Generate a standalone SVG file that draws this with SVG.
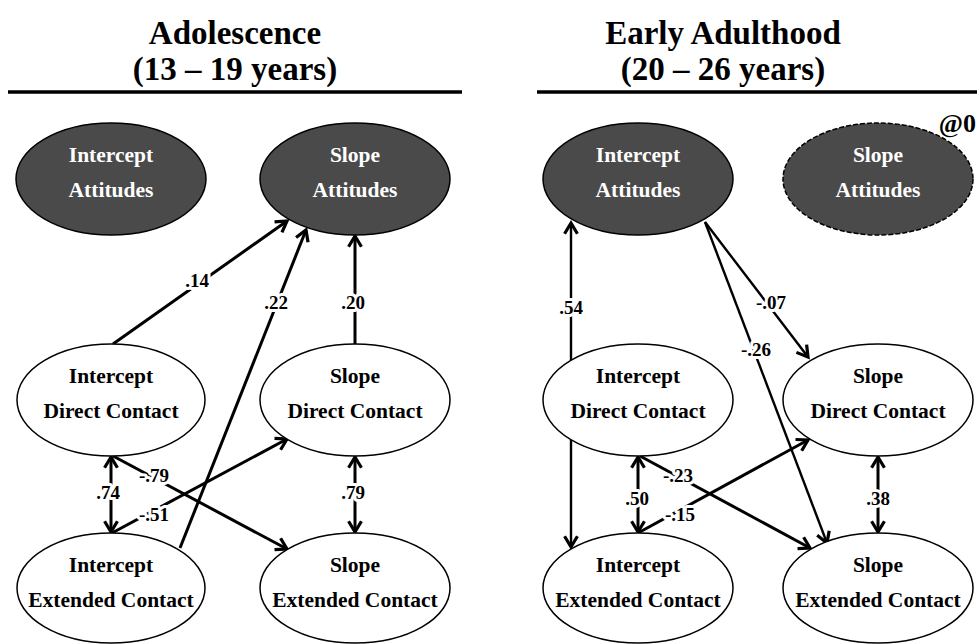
<svg xmlns="http://www.w3.org/2000/svg" width="977" height="644" viewBox="0 0 977 644">
<defs>
<marker id="ah" viewBox="0 0 12 14" refX="11" refY="7" markerWidth="13" markerHeight="15" markerUnits="userSpaceOnUse" orient="auto-start-reverse" overflow="visible">
<path d="M1,1 L11,7 L1,13" fill="none" stroke="#000" stroke-width="3"/>
</marker>
</defs>
<style>
text{font-family:'Liberation Serif','DejaVu Serif',serif;font-weight:bold}
.title{font-size:33px;text-anchor:middle;fill:#000}
.rule{stroke:#000;stroke-width:3.5}
.dark{fill:#4a4a4a;stroke:#000;stroke-width:1.5}
.light{fill:#fff;stroke:#000;stroke-width:1.5}
.dash{stroke-dasharray:5 2}
.nt{font-size:21.5px;text-anchor:middle}
.w{fill:#fff}
.b{fill:#000}
.ln{stroke:#000;stroke-width:3;fill:none}
.thin{stroke-width:2.4}
.one{marker-end:url(#ah)}
.two{marker-start:url(#ah);marker-end:url(#ah)}
.lab{font-size:19px;text-anchor:middle;fill:#000;stroke:#fff;stroke-width:6;paint-order:stroke;stroke-linejoin:round}
</style>
<g id="titles">
<text class="title" x="235" y="44">Adolescence</text>
<text class="title" x="235" y="80">(13 – 19 years)</text>
<line class="rule" x1="8" y1="92" x2="462" y2="92"/>
<text class="title" x="723" y="44">Early Adulthood</text>
<text class="title" x="723" y="80">(20 – 26 years)</text>
<line class="rule" x1="537" y1="92" x2="977" y2="92"/>
</g>
<g id="connectors">
<line class="ln one" x1="113" y1="344" x2="287" y2="221"/>
<line class="ln one" x1="180" y1="548" x2="306" y2="230"/>
<line class="ln one" x1="355" y1="344" x2="355" y2="236"/>
<line class="ln two" x1="111" y1="457" x2="111" y2="532"/>
<line class="ln one" x1="113" y1="456" x2="287" y2="549"/>
<line class="ln one" x1="112" y1="533" x2="287" y2="439"/>
<line class="ln two" x1="355" y1="457" x2="355" y2="532"/>
<line class="ln thin two" x1="571" y1="223" x2="571" y2="547"/>
<line class="ln thin one" x1="705" y1="222" x2="808" y2="357"/>
<line class="ln thin one" x1="705" y1="222" x2="827" y2="543"/>
<line class="ln two" x1="638" y1="457" x2="638" y2="532"/>
<line class="ln one" x1="640" y1="456" x2="810" y2="548"/>
<line class="ln one" x1="638" y1="533" x2="808" y2="440"/>
<line class="ln two" x1="878" y1="457" x2="878" y2="532"/>
</g>
<g id="labels">
<text class="lab" x="197" y="287">.14</text>
<text class="lab" x="276" y="309">.22</text>
<text class="lab" x="353" y="309">.20</text>
<text class="lab" x="108" y="499">.74</text>
<text class="lab" x="154" y="482">-.79</text>
<text class="lab" x="154" y="521">-.51</text>
<text class="lab" x="353" y="499">.79</text>
<text class="lab" x="571" y="314">.54</text>
<text class="lab" x="771" y="309">-.07</text>
<text class="lab" x="756" y="356">-.26</text>
<text class="lab" x="678" y="482">-.23</text>
<text class="lab" x="637" y="505">.50</text>
<text class="lab" x="680" y="521">-.15</text>
<text class="lab" x="878" y="505">.38</text>
</g>
<g id="L-intercept-attitudes">
<ellipse class="dark" cx="111" cy="179" rx="95" ry="56"/>
<text class="nt w" x="111" y="162">Intercept</text>
<text class="nt w" x="111" y="197">Attitudes</text>
</g>
<g id="L-slope-attitudes">
<ellipse class="dark" cx="355" cy="179" rx="95" ry="56"/>
<text class="nt w" x="355" y="162">Slope</text>
<text class="nt w" x="355" y="197">Attitudes</text>
</g>
<g id="L-intercept-direct">
<ellipse class="light" cx="111" cy="400" rx="94" ry="56"/>
<text class="nt b" x="111" y="383">Intercept</text>
<text class="nt b" x="111" y="418">Direct Contact</text>
</g>
<g id="L-slope-direct">
<ellipse class="light" cx="355" cy="400" rx="95" ry="56"/>
<text class="nt b" x="355" y="383">Slope</text>
<text class="nt b" x="355" y="418">Direct Contact</text>
</g>
<g id="L-intercept-extended">
<ellipse class="light" cx="111" cy="588" rx="94" ry="55"/>
<text class="nt b" x="111" y="572">Intercept</text>
<text class="nt b" x="111" y="607">Extended Contact</text>
</g>
<g id="L-slope-extended">
<ellipse class="light" cx="355" cy="588" rx="95" ry="55"/>
<text class="nt b" x="355" y="572">Slope</text>
<text class="nt b" x="355" y="607">Extended Contact</text>
</g>
<g id="R-intercept-attitudes">
<ellipse class="dark" cx="638" cy="179" rx="95" ry="56"/>
<text class="nt w" x="638" y="162">Intercept</text>
<text class="nt w" x="638" y="197">Attitudes</text>
</g>
<g id="R-slope-attitudes">
<ellipse class="dark dash" cx="878" cy="179" rx="95" ry="56"/>
<text class="nt w" x="878" y="162">Slope</text>
<text class="nt w" x="878" y="197">Attitudes</text>
<text class="nt b" x="976" y="132" style="text-anchor:end;font-size:26px">@0</text>
</g>
<g id="R-intercept-direct">
<ellipse class="light" cx="638" cy="400" rx="95" ry="56"/>
<text class="nt b" x="638" y="383">Intercept</text>
<text class="nt b" x="638" y="418">Direct Contact</text>
</g>
<g id="R-slope-direct">
<ellipse class="light" cx="878" cy="400" rx="95" ry="56"/>
<text class="nt b" x="878" y="383">Slope</text>
<text class="nt b" x="878" y="418">Direct Contact</text>
</g>
<g id="R-intercept-extended">
<ellipse class="light" cx="638" cy="588" rx="95" ry="55"/>
<text class="nt b" x="638" y="572">Intercept</text>
<text class="nt b" x="638" y="607">Extended Contact</text>
</g>
<g id="R-slope-extended">
<ellipse class="light" cx="878" cy="588" rx="95" ry="55"/>
<text class="nt b" x="878" y="572">Slope</text>
<text class="nt b" x="878" y="607">Extended Contact</text>
</g>
</svg>
